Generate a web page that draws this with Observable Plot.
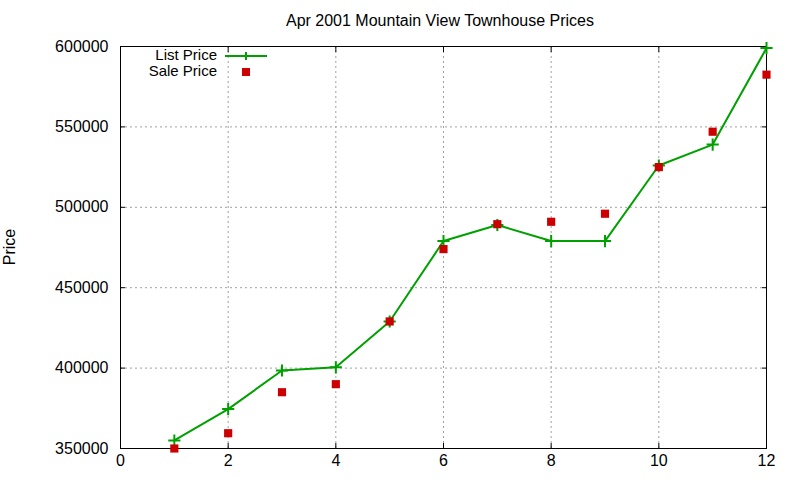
<!DOCTYPE html>
<html>
<head>
<meta charset="utf-8">
<script src="https://cdn.jsdelivr.net/npm/d3@7"></script>
<script src="https://cdn.jsdelivr.net/npm/@observablehq/plot@0.6"></script>
<style>
  html, body { margin: 0; padding: 0; background: #fff; }
  #chart svg { display: block; }
</style>
</head>
<body>
<div id="chart"></div>
<script>
const months = [1, 2, 3, 4, 5, 6, 7, 8, 9, 10, 11, 12];
const listPrice = [355000, 374500, 398500, 400500, 429000, 479000, 489000, 479000, 479000, 526000, 539000, 599000];
const salePrice = [350000, 359500, 385000, 390000, 429000, 474000, 489500, 491000, 496000, 525000, 547000, 582500];
const xTicks = [0, 2, 4, 6, 8, 10, 12];
const yTicks = [350000, 400000, 450000, 500000, 550000, 600000];
const title = "Apr 2001 Mountain View Townhouse Prices";
const yLabel = "Price";
const seriesNames = ["List Price", "Sale Price"];

const listData = months.map((m, i) => ({month: m, price: listPrice[i]}));
const saleData = months.map((m, i) => ({month: m, price: salePrice[i]}));

const green = "#00a000";
const red = "#cc0000";
const font = "'Liberation Sans', Arial, sans-serif";
const blank = () => "";

const chart = Plot.plot({
  width: 800,
  height: 480,
  marginLeft: 120,
  marginRight: 34,
  marginTop: 46,
  marginBottom: 32,
  style: {fontFamily: font, fontSize: "16px", color: "#000", background: "#fff", overflow: "visible"},
  x: {domain: [0, 12]},
  y: {domain: [350000, 600000]},
  marks: [
    Plot.gridX(xTicks.filter(d => d > 0 && d < 12), {stroke: "#a0a0a0", strokeOpacity: 1, strokeDasharray: "2,3", strokeWidth: 1}),
    Plot.gridY(yTicks.filter(d => d > 350000 && d < 600000), {stroke: "#a0a0a0", strokeOpacity: 1, strokeDasharray: "2,3", strokeWidth: 1}),
    // inward ticks
    Plot.axisX(xTicks, {anchor: "bottom", tickSize: 5, dy: -5, tickFormat: blank, label: null}),
    Plot.axisX(xTicks, {anchor: "top", tickSize: 5, dy: 5, tickFormat: blank, label: null}),
    Plot.axisY(yTicks, {anchor: "left", tickSize: 5, dx: 5, tickFormat: blank, label: null}),
    Plot.axisY(yTicks, {anchor: "right", tickSize: 5, dx: -5, tickFormat: blank, label: null}),
    // labels
    Plot.axisX(xTicks, {anchor: "bottom", tickSize: 0, tickPadding: 6, tickFormat: d => String(d), label: null, fontSize: 16}),
    Plot.axisY(yTicks, {anchor: "left", tickSize: 0, tickPadding: 12, tickFormat: d => String(d), label: null, fontSize: 16}),
    Plot.frame({stroke: "#000", strokeWidth: 1}),
    Plot.line(listData, {x: "month", y: "price", stroke: green, strokeWidth: 2}),
    Plot.dot(listData, {x: "month", y: "price", symbol: "plus", r: 4, stroke: green, strokeWidth: 2}),
    Plot.dot(saleData, {x: "month", y: "price", symbol: "square", r: 4.6, fill: red, stroke: "none"})
  ]
});

const svg = d3.select(chart);
// title
svg.append("text")
  .attr("x", 440).attr("y", 26)
  .attr("text-anchor", "middle")
  .attr("font-family", font).attr("font-size", 16).attr("fill", "#000")
  .text(title);
// y label
svg.append("text")
  .attr("transform", "translate(15,247) rotate(-90)")
  .attr("text-anchor", "middle")
  .attr("font-family", font).attr("font-size", 16).attr("fill", "#000")
  .text(yLabel);
// legend
const leg = svg.append("g").attr("font-family", font).attr("font-size", 15).attr("fill", "#000");
leg.append("text").attr("x", 217).attr("y", 60).attr("text-anchor", "end").text(seriesNames[0]);
leg.append("line").attr("x1", 225).attr("x2", 267).attr("y1", 56).attr("y2", 56)
  .attr("stroke", green).attr("stroke-width", 2);
leg.append("path").attr("d", "M242,56H250M246,52V60").attr("stroke", green).attr("stroke-width", 2);
leg.append("text").attr("x", 217).attr("y", 76).attr("text-anchor", "end").text(seriesNames[1]);
leg.append("rect").attr("x", 242).attr("y", 68).attr("width", 8).attr("height", 8).attr("fill", red);

document.getElementById("chart").appendChild(chart);
</script>
</body>
</html>
